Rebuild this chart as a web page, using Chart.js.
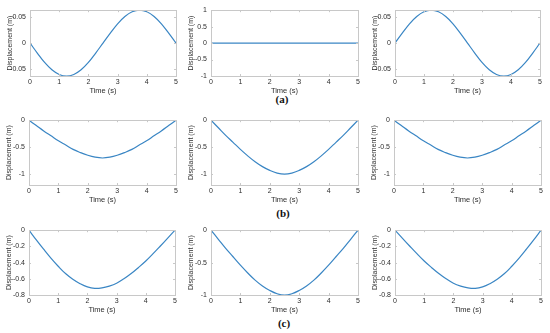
<!DOCTYPE html>
<html>
<head>
<meta charset="utf-8">
<script src="https://cdn.jsdelivr.net/npm/chart.js@4.4.1/dist/chart.umd.min.js"></script>
<style>
  html, body { margin: 0; padding: 0; background: #ffffff; }
  body { width: 550px; height: 333px; position: relative; overflow: hidden; }
  canvas { position: absolute; }
  .lab { position: absolute; font-family: "Liberation Serif", "DejaVu Serif", serif; font-weight: bold; font-size: 11px; color: #111; transform: translate(-50%, -50%); white-space: nowrap; }
</style>
</head>
<body>
<div class="lab" style="left:282px; top:99px;">(a)</div>
<div class="lab" style="left:283px; top:213px;">(b)</div>
<div class="lab" style="left:284px; top:323px;">(c)</div>
<script>
// ---- data (time in s, displacement in m) ----
const time = [0,0.25,0.5,0.75,1,1.25,1.5,1.75,2,2.25,2.5,2.75,3,3.25,3.5,3.75,4,4.25,4.5,4.75,5];

const dispA1 = [0,-0.019,-0.037,-0.051,-0.060,-0.063,-0.060,-0.051,-0.037,-0.019,0,0.019,0.037,0.051,0.060,0.063,0.060,0.051,0.037,0.019,0];
const dispA2 = [0,0,0,0,0,0,0,0,0,0,0,0,0,0,0,0,0,0,0,0,0];
const dispA3 = [0,0.019,0.037,0.051,0.060,0.063,0.060,0.051,0.037,0.019,0,-0.019,-0.037,-0.051,-0.060,-0.063,-0.060,-0.051,-0.037,-0.019,0];

const dispB1 = [0,-0.10,-0.20,-0.29,-0.38,-0.46,-0.54,-0.60,-0.65,-0.685,-0.70,-0.685,-0.65,-0.60,-0.54,-0.46,-0.38,-0.29,-0.20,-0.10,0];
const dispB2 = [0,-0.14,-0.28,-0.41,-0.54,-0.66,-0.77,-0.86,-0.93,-0.98,-1.00,-0.98,-0.93,-0.86,-0.77,-0.66,-0.54,-0.41,-0.28,-0.14,0];
const dispB3 = [0,-0.10,-0.20,-0.29,-0.38,-0.46,-0.54,-0.60,-0.65,-0.685,-0.70,-0.685,-0.65,-0.60,-0.54,-0.46,-0.38,-0.29,-0.20,-0.10,0];

const dispC1 = [0,-0.12,-0.235,-0.345,-0.445,-0.535,-0.605,-0.66,-0.70,-0.718,-0.712,-0.69,-0.655,-0.60,-0.535,-0.46,-0.38,-0.29,-0.195,-0.098,0];
const dispC2 = [0,-0.14,-0.28,-0.41,-0.54,-0.66,-0.77,-0.86,-0.93,-0.98,-1.00,-0.98,-0.93,-0.86,-0.77,-0.66,-0.54,-0.41,-0.28,-0.14,0];
const dispC3 = [0,-0.098,-0.195,-0.29,-0.38,-0.46,-0.535,-0.60,-0.655,-0.69,-0.712,-0.718,-0.70,-0.66,-0.605,-0.535,-0.445,-0.345,-0.235,-0.12,0];

// ---- tick labels ----
const xTicks = [0,1,2,3,4,5];
const yTicksSmall = [-0.05,0,0.05];
const yTicksUnit = [-1,-0.5,0,0.5,1];
const yTicksB = [-1,-0.5,0];
const yTicksC = [-0.8,-0.6,-0.4,-0.2,0];

const xTitle = 'Time (s)';
const yTitle = 'Displacement (m)';

// ---- panel layout: [plotLeft, plotTop, plotRight, plotBottom], y-range ----
const panels = [
  {box:[30,8,176,76],   data:dispA1, ymin:-0.063, ymax:0.063, ticks:yTicksSmall},
  {box:[211,8,358,76],  data:dispA2, ymin:-1, ymax:1, ticks:yTicksUnit},
  {box:[395,8,540,76],  data:dispA3, ymin:-0.063, ymax:0.063, ticks:yTicksSmall},
  {box:[29,118,176,185],  data:dispB1, ymin:-1.2, ymax:0, ticks:yTicksB},
  {box:[211,118,358,185], data:dispB2, ymin:-1.2, ymax:0, ticks:yTicksB},
  {box:[394,118,541,185], data:dispB3, ymin:-1.2, ymax:0, ticks:yTicksB},
  {box:[29,228,175,295],  data:dispC1, ymin:-0.8, ymax:0, ticks:yTicksC},
  {box:[211,228,358,295], data:dispC2, ymin:-1, ymax:0, ticks:yTicksB},
  {box:[395,228,541,295], data:dispC3, ymin:-0.8, ymax:0, ticks:yTicksC}
];

const Y_W = 30, X_H = 24, PAD_T = 6, PAD_R = 6;
const frameColor = '#c8c8c8';
const textColor = '#2e2e2e';
const lineColor = '#3a86c4';

const framePlugin = {
  id: 'frame',
  afterDraw(chart) {
    const {ctx, chartArea: a, scales} = chart;
    ctx.save();
    ctx.strokeStyle = frameColor;
    ctx.lineWidth = 1;
    ctx.strokeRect(Math.round(a.left) + 0.5, Math.round(a.top) + 0.5,
                   Math.round(a.right - a.left), Math.round(a.bottom - a.top));
    ctx.beginPath();
    scales.x.ticks.forEach(t => {
      const px = Math.round(scales.x.getPixelForValue(t.value)) + 0.5;
      ctx.moveTo(px, a.bottom); ctx.lineTo(px, a.bottom - 2);
      ctx.moveTo(px, a.top); ctx.lineTo(px, a.top + 2);
    });
    scales.y.ticks.forEach(t => {
      const py = Math.round(scales.y.getPixelForValue(t.value)) + 0.5;
      ctx.moveTo(a.left, py); ctx.lineTo(a.left + 2, py);
      ctx.moveTo(a.right, py); ctx.lineTo(a.right - 2, py);
    });
    ctx.stroke();
    ctx.restore();
  }
};

function fmt(v) {
  if (Math.abs(v) < 1e-9) return '0';
  return String(v);
}

panels.forEach(p => {
  const [x0, y0, x1, y1] = p.box;
  const cv = document.createElement('canvas');
  const w = (x1 - x0) + Y_W + PAD_R;
  const h = (y1 - y0) + PAD_T + X_H;
  cv.width = w; cv.height = h;
  cv.style.left = (x0 - Y_W) + 'px';
  cv.style.top = (y0 - PAD_T) + 'px';
  cv.style.width = w + 'px'; cv.style.height = h + 'px';
  document.body.appendChild(cv);

  new Chart(cv, {
    type: 'line',
    data: {
      datasets: [{
        data: time.map((t, i) => ({x: t, y: p.data[i]})),
        borderColor: lineColor,
        borderWidth: 1.2,
        pointRadius: 0,
        fill: false,
        tension: 0.4
      }]
    },
    options: {
      responsive: false,
      animation: false,
      devicePixelRatio: 1,
      layout: {padding: {top: PAD_T, right: PAD_R, left: 0, bottom: 0}},
      plugins: {legend: {display: false}, tooltip: {enabled: false}},
      scales: {
        x: {
          type: 'linear', min: 0, max: 5,
          grid: {display: false, drawTicks: false},
          border: {display: false},
          afterBuildTicks: s => { s.ticks = xTicks.map(v => ({value: v})); },
          afterFit: s => { s.height = X_H; },
          ticks: {
            padding: 2, color: textColor, maxRotation: 0, autoSkip: false,
            font: {family: 'Liberation Sans, Arial, sans-serif', size: 7},
            callback: v => fmt(v)
          },
          title: {
            display: true, text: xTitle, color: textColor,
            font: {family: 'Liberation Sans, Arial, sans-serif', size: 7.5},
            padding: {top: 0, bottom: 4.5}
          }
        },
        y: {
          type: 'linear', min: p.ymin, max: p.ymax,
          grid: {display: false, drawTicks: false},
          border: {display: false},
          afterBuildTicks: s => { s.ticks = p.ticks.map(v => ({value: v})); },
          afterFit: s => { s.width = Y_W; },
          ticks: {
            padding: 4, color: textColor, autoSkip: false,
            font: {family: 'Liberation Sans, Arial, sans-serif', size: 7},
            callback: v => fmt(v)
          },
          title: {
            display: true, text: yTitle, color: textColor,
            font: {family: 'Liberation Sans, Arial, sans-serif', size: 7},
            padding: {top: 5.5, bottom: 0}
          }
        }
      }
    },
    plugins: [framePlugin]
  });
});
</script>
</body>
</html>
